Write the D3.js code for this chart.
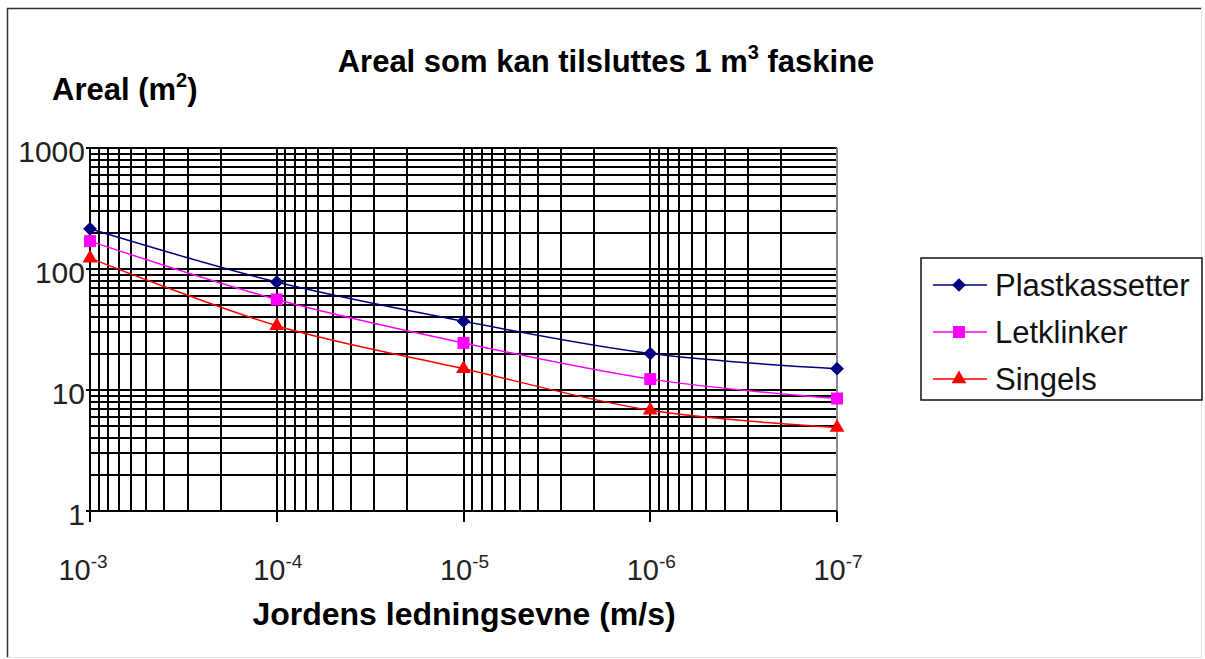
<!DOCTYPE html>
<html>
<head>
<meta charset="utf-8">
<script src="https://cdn.jsdelivr.net/npm/d3@7"></script>
<style>
  body { margin: 0; background: #fff; }
  svg { display: block; font-family: "Liberation Sans", Arial, sans-serif; }
</style>
</head>
<body>
<svg id="chart" width="1205" height="659"></svg>
<script>
const conductivity = [1e-3, 1e-4, 1e-5, 1e-6, 1e-7]
const plastkassetter = [215, 78, 37, 20, 15]
const letklinker = [170, 56, 24.5, 12.3, 8.5]
const singels = [123, 34, 15, 6.8, 4.9]
const yTickLabels = ["1", "10", "100", "1000"]
const xTickExp = ["-3", "-4", "-5", "-6", "-7"]

const series = [
  {name: "Plastkassetter", values: plastkassetter, color: "#000080", symbol: d3.symbolDiamond2, size: 120},
  {name: "Letklinker", values: letklinker, color: "#ff00ff", symbol: d3.symbolSquare, size: 144},
  {name: "Singels", values: singels, color: "#ff0000", symbol: d3.symbolTriangle, size: 95}
]

const svg = d3.select('#chart')
const plotL = 90, plotR = 837, plotT = 148, plotB = 511

const x = d3.scaleLog().domain([1e-3, 1e-7]).range([plotL, plotR])
const y = d3.scaleLog().domain([1, 1000]).range([plotB, plotT])

// outer frame
svg.append('line').attr('x1', 7.5).attr('x2', 7.5).attr('y1', 8).attr('y2', 658).attr('stroke', '#333').attr('stroke-width', 1.5)
svg.append('line').attr('x1', 7).attr('x2', 1202).attr('y1', 8.5).attr('y2', 8.5).attr('stroke', '#333').attr('stroke-width', 1.5)
svg.append('line').attr('x1', 1201.5).attr('x2', 1201.5).attr('y1', 8).attr('y2', 658).attr('stroke', '#e4e4e4')
svg.append('line').attr('x1', 7).attr('x2', 1202).attr('y1', 657.5).attr('y2', 657.5).attr('stroke', '#e4e4e4')

// grid
const grid = svg.append('g')
grid.selectAll('.gy')
  .data(y.ticks())
  .join('line')
  .attr('x1', plotL).attr('x2', plotR)
  .attr('y1', d => Math.round(y(d))).attr('y2', d => Math.round(y(d)))
  .attr('stroke', '#000').attr('stroke-width', 2)
grid.selectAll('.gx')
  .data(x.ticks())
  .join('line')
  .attr('x1', d => Math.round(x(d))).attr('x2', d => Math.round(x(d)))
  .attr('y1', plotT).attr('y2', plotB)
  .attr('stroke', d => d === 1e-7 ? '#888' : '#000').attr('stroke-width', 2)

// axes lines and major ticks
svg.append('line').attr('x1', plotL).attr('x2', plotR).attr('y1', plotB).attr('y2', plotB).attr('stroke', '#000').attr('stroke-width', 2)
svg.append('line').attr('x1', plotL).attr('x2', plotL).attr('y1', plotT).attr('y2', plotB).attr('stroke', '#000').attr('stroke-width', 2)
svg.selectAll('.xt')
  .data(conductivity)
  .join('line')
  .attr('x1', d => Math.round(x(d))).attr('x2', d => Math.round(x(d)))
  .attr('y1', plotB).attr('y2', plotB + 11)
  .attr('stroke', '#000').attr('stroke-width', 2)
svg.selectAll('.yt')
  .data(yTickLabels)
  .join('line')
  .attr('x1', plotL - 4).attr('x2', plotL)
  .attr('y1', d => Math.round(y(+d))).attr('y2', d => Math.round(y(+d)))
  .attr('stroke', '#000').attr('stroke-width', 2)

// y tick labels
svg.selectAll('.yl')
  .data(yTickLabels)
  .join('text')
  .attr('x', plotL - 5)
  .attr('y', d => y(+d) + 14)
  .attr('text-anchor', 'end')
  .attr('font-size', 30)
  .attr('fill', '#222')
  .text(d => d)

// x tick labels
const xl = svg.selectAll('.xl')
  .data(conductivity)
  .join('text')
  .attr('x', (d, i) => x(d) + (i === 0 ? -7 : 1))
  .attr('y', 580)
  .attr('text-anchor', 'middle')
  .attr('font-size', 29)
  .attr('fill', '#222')
xl.append('tspan').text('10')
xl.append('tspan').attr('dy', -12).attr('font-size', 19).text((d, i) => xTickExp[i])

// lines + markers
const line = d3.line()
  .x((d, i) => x(conductivity[i]))
  .y(d => y(d))
  .curve(d3.curveCatmullRom.alpha(0))

series.forEach(s => {
  svg.append('path')
    .attr('d', line(s.values))
    .attr('fill', 'none')
    .attr('stroke', s.color)
    .attr('stroke-width', 1.5)
  svg.selectAll(null)
    .data(s.values)
    .join('path')
    .attr('transform', (d, i) => `translate(${x(conductivity[i])},${y(d)})`)
    .attr('d', d3.symbol(s.symbol, s.size))
    .attr('fill', s.color)
})

// titles
const title = svg.append('text')
  .attr('x', 606).attr('y', 72)
  .attr('text-anchor', 'middle')
  .attr('font-size', 31).attr('font-weight', 'bold')
title.append('tspan').text('Areal som kan tilsluttes 1 m')
title.append('tspan').attr('dy', -13).attr('font-size', 20).text('3')
title.append('tspan').attr('dy', 13).text(' faskine')

const ytitle = svg.append('text')
  .attr('x', 52).attr('y', 100)
  .attr('font-size', 31).attr('font-weight', 'bold')
ytitle.append('tspan').text('Areal (m')
ytitle.append('tspan').attr('dy', -13).attr('font-size', 20).text('2')
ytitle.append('tspan').attr('dy', 13).text(')')

svg.append('text')
  .attr('x', 464).attr('y', 625)
  .attr('text-anchor', 'middle')
  .attr('font-size', 32).attr('font-weight', 'bold')
  .text('Jordens ledningsevne (m/s)')

// legend
const legend = svg.append('g')
legend.append('rect')
  .attr('x', 921).attr('y', 258).attr('width', 281).attr('height', 142)
  .attr('fill', '#fff').attr('stroke', '#111').attr('stroke-width', 1.5)
const items = legend.selectAll('.li')
  .data(series)
  .join('g')
  .attr('transform', (d, i) => `translate(0,${285 + i * 47})`)
items.append('line')
  .attr('x1', 933).attr('x2', 987)
  .attr('stroke', d => d.color).attr('stroke-width', 1.5)
items.append('path')
  .attr('transform', 'translate(959,0)')
  .attr('d', d => d3.symbol(d.symbol, d.size)())
  .attr('fill', d => d.color)
items.append('text')
  .attr('x', 995).attr('y', 11)
  .attr('font-size', 31)
  .attr('fill', '#111')
  .text(d => d.name)
</script>
</body>
</html>
